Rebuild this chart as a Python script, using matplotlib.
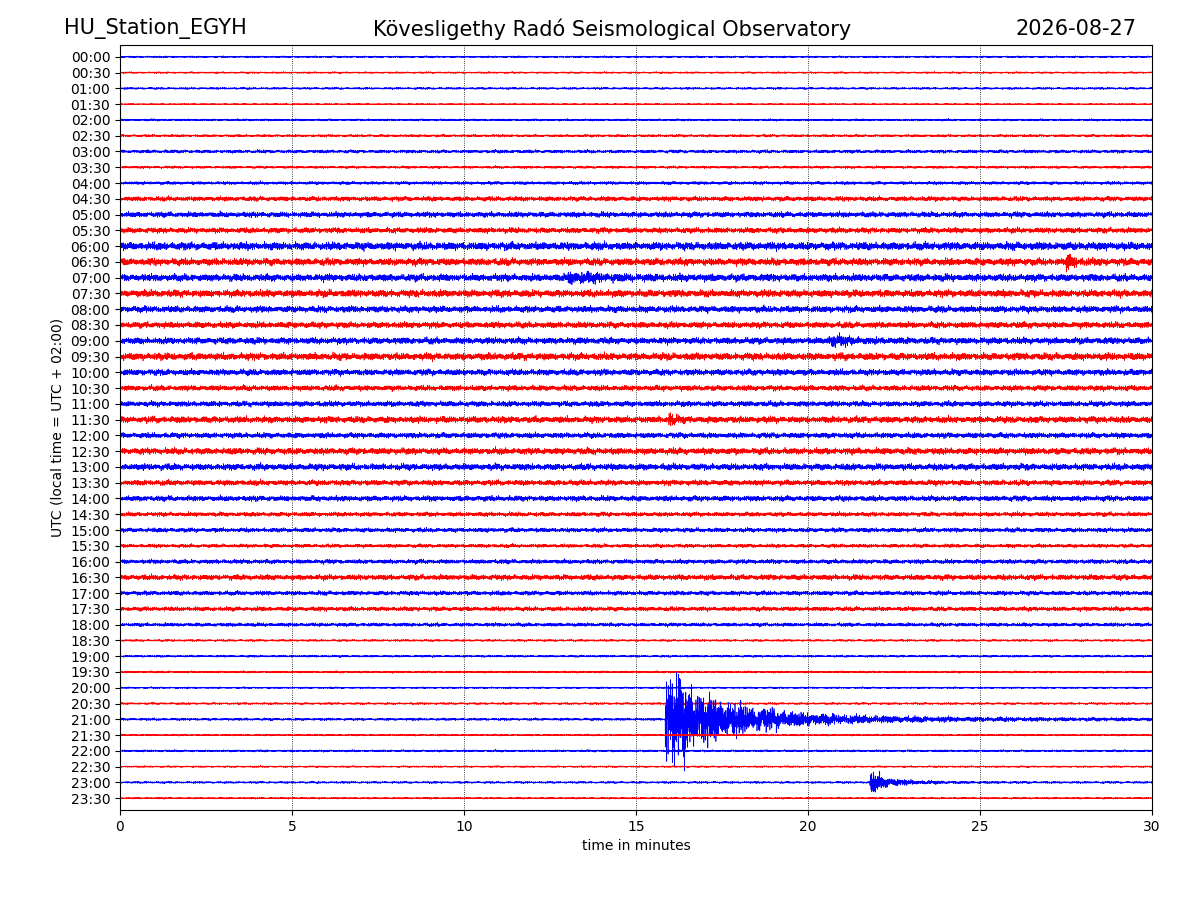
import numpy as np
import matplotlib
matplotlib.use("Agg")
import matplotlib.pyplot as plt

# row labels (UTC), 30 minute traces
row_labels = ["%02d:%02d" % (h, m) for h in range(24) for m in (0, 30)]

# background noise level of each trace, in units of the row spacing
row_amp = [0.05, 0.05, 0.06, 0.04, 0.06, 0.07, 0.09, 0.07, 0.09, 0.13,
           0.15, 0.15, 0.22, 0.20, 0.20, 0.20, 0.18, 0.17, 0.18, 0.20,
           0.17, 0.15, 0.15, 0.18, 0.15, 0.18, 0.18, 0.15, 0.15, 0.12,
           0.12, 0.10, 0.12, 0.15, 0.12, 0.12, 0.10, 0.06, 0.06, 0.06,
           0.05, 0.06, 0.07, 0.05, 0.06, 0.05, 0.06, 0.05]

# events: (row, onset minute, peak amplitude, decay minutes)
events = [(42, 15.85, 2.6, 1.6), (46, 21.8, 0.6, 0.5),
          (14, 13.0, 0.25, 0.8), (23, 15.95, 0.5, 0.1),
          (18, 20.6, 0.3, 0.4), (13, 27.5, 0.4, 0.2)]

colors = ["blue", "red"]


def carrier(t, k):
    # deterministic, noise-looking oscillation
    s = np.zeros_like(t)
    for i, f in enumerate([37.1, 53.7, 71.3, 97.9, 123.1, 161.7, 203.3]):
        s += np.sin(2 * np.pi * f * t + k * (i + 1) * 1.7) * (1.0 - i * 0.08)
    return s / 3.0


t = np.linspace(0, 30, 6000)
fig, ax = plt.subplots(figsize=(12, 9), dpi=100)
fig.subplots_adjust(left=0.1, right=0.96, top=0.95, bottom=0.1)

for k, amp in enumerate(row_amp):
    env = np.full_like(t, amp)
    for row, t0, a, d in events:
        if row == k:
            mask = t >= t0
            env[mask] += a * np.exp(-(t[mask] - t0) / d) + a * 0.1 * np.exp(-(t[mask] - t0) / (d * 4))
    y = k + env * carrier(t, k)
    ax.plot(t, y, color=colors[k % 2], lw=0.5)

ax.set_xlim(0, 30)
ax.set_ylim(47.75, -0.75)
ax.set_yticks(range(len(row_labels)))
ax.set_yticklabels(row_labels)
ax.set_xticks(range(0, 31, 5))
ax.grid(axis="x", color="black", linestyle=":", lw=0.6)
ax.set_xlabel("time in minutes")
ax.set_ylabel("UTC (local time = UTC + 02:00)")

fig.text(0.053, 0.968, "HU_Station_EGYH", fontsize=15, va="center")
fig.text(0.51, 0.968, "Kövesligethy Radó Seismological Observatory", fontsize=15, ha="center", va="center")
fig.text(0.947, 0.968, "2026-08-27", fontsize=15, ha="right", va="center")

fig.savefig("out.png")
